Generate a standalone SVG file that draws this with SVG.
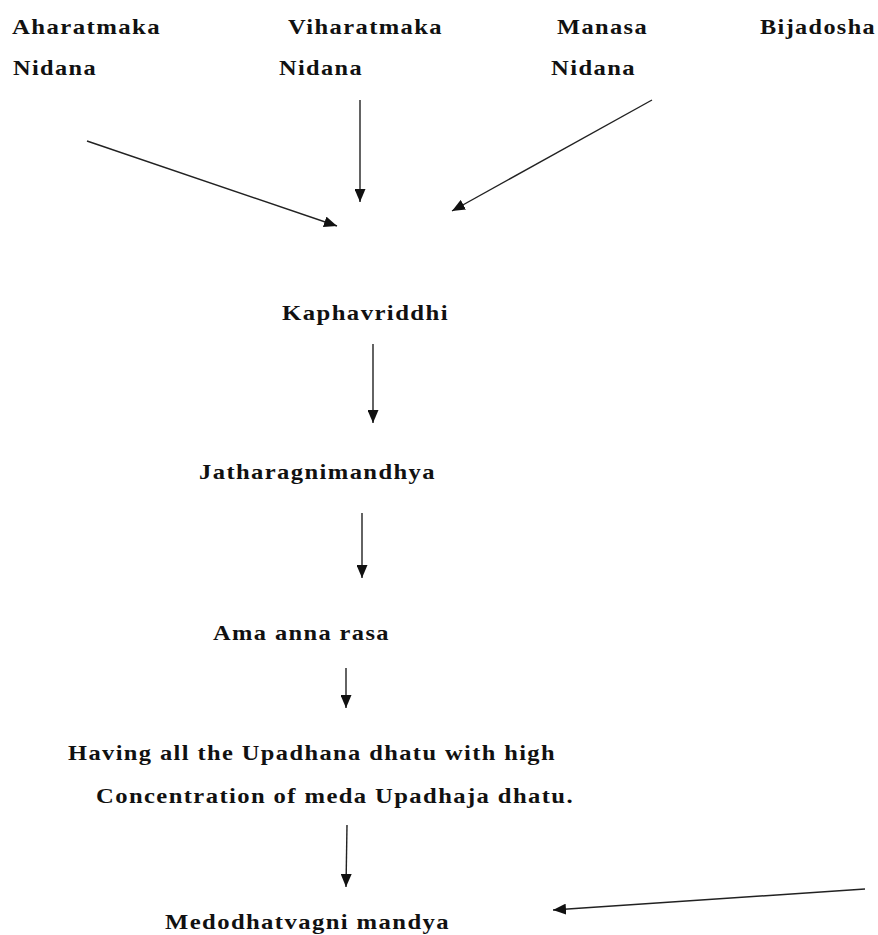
<svg xmlns="http://www.w3.org/2000/svg" width="878" height="935" viewBox="0 0 878 935">
<style>
text{font-family:"Liberation Serif","Times New Roman",serif;font-weight:bold;font-size:21px;letter-spacing:1.2px;fill:#111;}
.c line{stroke:#222;stroke-width:1.4;marker-end:url(#ah);}
</style>
<defs>
<marker id="ah" viewBox="0 0 13 11" refX="13" refY="5.5" markerWidth="13" markerHeight="11" markerUnits="userSpaceOnUse" orient="auto">
<path d="M0,0 L13,5.5 L0,11 z" fill="#111"/>
</marker>
</defs>
<rect width="878" height="935" fill="#fff"/>
<g id="aharatmaka"><text x="12" y="34" textLength="149" lengthAdjust="spacingAndGlyphs">Aharatmaka</text><text x="13" y="75" textLength="84" lengthAdjust="spacingAndGlyphs">Nidana</text></g>
<g id="viharatmaka"><text x="288" y="34" textLength="155" lengthAdjust="spacingAndGlyphs">Viharatmaka</text><text x="279" y="75" textLength="84" lengthAdjust="spacingAndGlyphs">Nidana</text></g>
<g id="manasa"><text x="557" y="34" textLength="91" lengthAdjust="spacingAndGlyphs">Manasa</text><text x="551" y="75" textLength="85" lengthAdjust="spacingAndGlyphs">Nidana</text></g>
<g id="bijadosha"><text x="760" y="34" textLength="116" lengthAdjust="spacingAndGlyphs">Bijadosha</text></g>
<g id="kaphavriddhi"><text x="282" y="320" textLength="167" lengthAdjust="spacingAndGlyphs">Kaphavriddhi</text></g>
<g id="jatharagni"><text x="199" y="479" textLength="237" lengthAdjust="spacingAndGlyphs">Jatharagnimandhya</text></g>
<g id="ama"><text x="213" y="640" textLength="177" lengthAdjust="spacingAndGlyphs">Ama anna rasa</text></g>
<g id="upadhana"><text x="68" y="760" textLength="488" lengthAdjust="spacingAndGlyphs">Having all the Upadhana dhatu with high</text><text x="96" y="803" textLength="478" lengthAdjust="spacingAndGlyphs">Concentration of meda Upadhaja dhatu.</text></g>
<g id="medodhatvagni"><text x="165" y="929" textLength="285" lengthAdjust="spacingAndGlyphs">Medodhatvagni mandya</text></g>
<g class="c" id="connectors">
<line x1="87" y1="141" x2="337" y2="226"/>
<line x1="360" y1="100" x2="360" y2="202"/>
<line x1="652" y1="100" x2="452" y2="211"/>
<line x1="373" y1="344" x2="373" y2="423"/>
<line x1="362" y1="513" x2="362" y2="578"/>
<line x1="346" y1="668" x2="346" y2="708"/>
<line x1="347" y1="825" x2="346" y2="887"/>
<line x1="865" y1="889" x2="553" y2="910"/>
</g>
</svg>
